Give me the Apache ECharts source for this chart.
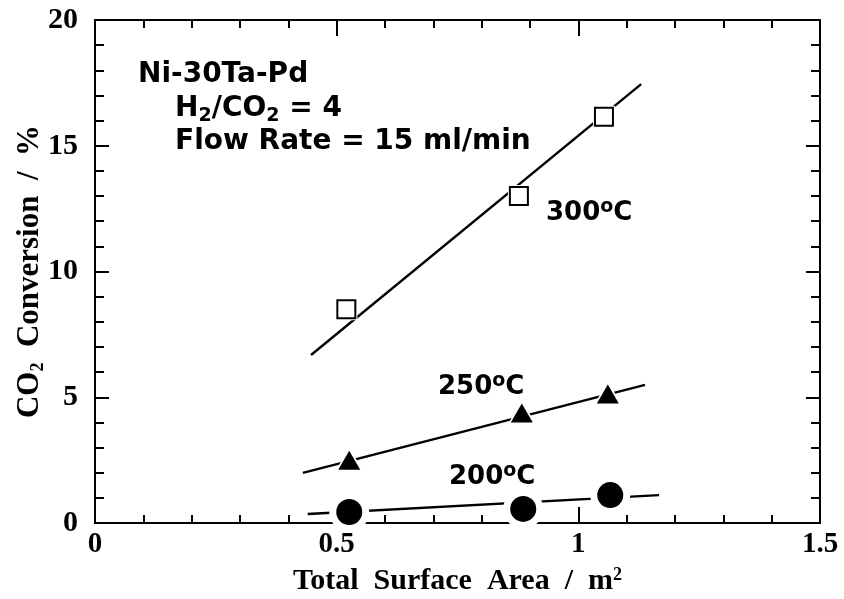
<!DOCTYPE html>
<html>
<head>
<meta charset="utf-8">
<script src="https://cdn.jsdelivr.net/npm/echarts@6/dist/echarts.min.js"></script>
<style>
  html, body { margin: 0; padding: 0; background: #fff; }
  #chart { width: 844px; height: 599px; }
</style>
</head>
<body>
<div id="chart"></div>
<script>
// Measured CO2 conversion (%) against total catalyst surface area (m2)
const area300 = [0.52, 0.877, 1.053];
const conv300 = [8.5, 13.0, 16.15];
const area250 = [0.526, 0.883, 1.061];
const conv250 = [2.5, 4.37, 5.13];
const area200 = [0.526, 0.886, 1.066];
const conv200 = [0.44, 0.56, 1.11];

// Straight-line fits through each temperature set: [area, conversion] end points
const fit300 = [[0.447, 6.68], [1.13, 17.45]];
const fit250 = [[0.43, 1.99], [1.138, 5.49]];
const fit200 = [[0.44, 0.36], [1.167, 1.11]];

// Axis ranges and tick steps
const xRange = [0, 1.5];
const xStep = 0.5;
const yRange = [0, 20];
const yStep = 5;

const serif = '"Liberation Serif", "Times New Roman", serif';
const sans = '"DejaVu Sans", "Liberation Sans", sans-serif';

const zip = (xs, ys) => xs.map((x, i) => [x, ys[i]]);

const tickLine = { color: '#000', width: 2 };
function makeX(pos, showLabels) {
  return {
    type: 'value', position: pos, min: xRange[0], max: xRange[1], interval: xStep,
    axisLine: { show: true, onZero: false, lineStyle: { color: '#000', width: 2 } },
    axisTick: { show: true, inside: true, length: 16, lineStyle: tickLine },
    minorTick: { show: true, splitNumber: 5, length: 8, lineStyle: tickLine },
    splitLine: { show: false },
    axisLabel: {
      show: showLabels, color: '#000', fontFamily: serif, fontWeight: 'bold', fontSize: 29, margin: 7
    }
  };
}
function makeY(pos, showLabels) {
  return {
    type: 'value', position: pos, min: yRange[0], max: yRange[1], interval: yStep,
    axisLine: { show: true, onZero: false, lineStyle: { color: '#000', width: 2 } },
    axisTick: { show: true, inside: true, length: 14, lineStyle: tickLine },
    minorTick: { show: true, splitNumber: 5, length: 9, lineStyle: tickLine },
    splitLine: { show: false },
    axisLabel: {
      show: showLabels, color: '#000', fontFamily: serif, fontWeight: 'bold', fontSize: 30, margin: 17
    }
  };
}

const xBottom = makeX('bottom', true);
xBottom.name = '{a|Total  Surface  Area  /  m}{sup|2}';
xBottom.nameLocation = 'middle';
xBottom.nameGap = 43;
xBottom.nameTextStyle = {
  rich: {
    a: { fontFamily: serif, fontWeight: 'bold', fontSize: 30, color: '#000' },
    sup: { fontFamily: serif, fontWeight: 'bold', fontSize: 18, color: '#000', verticalAlign: 'top' }
  }
};

const yLeft = makeY('left', true);
yLeft.name = '{a|CO}{sub|2}{a|  Conversion  /  %}';
yLeft.nameLocation = 'middle';
yLeft.nameRotate = 90;
yLeft.nameGap = 48;
yLeft.nameMoveOverlap = false;
yLeft.nameTextStyle = {
  rich: {
    a: { fontFamily: serif, fontWeight: 'bold', fontSize: 31, color: '#000', lineHeight: 34 },
    sub: { fontFamily: serif, fontWeight: 'bold', fontSize: 18, color: '#000', verticalAlign: 'bottom', lineHeight: 34 }
  }
};

function fitLine(data) {
  return {
    type: 'line', data: data, xAxisIndex: 0, yAxisIndex: 0, showSymbol: false, symbol: 'none',
    lineStyle: { color: '#000', width: 2.4 }, silent: true, z: 2, animation: false
  };
}
function halo(data, symbol, size) {
  return {
    type: 'scatter', data: data, symbol: symbol, symbolSize: size,
    itemStyle: { color: '#fff', opacity: 1 }, silent: true, z: 3, animation: false
  };
}
function markers(data, symbol, size, style) {
  return {
    type: 'scatter', data: data, symbol: symbol, symbolSize: size,
    itemStyle: Object.assign({ opacity: 1 }, style), silent: true, z: 4, animation: false
  };
}

const pts300 = zip(area300, conv300);
const pts250 = zip(area250, conv250);
const pts200 = zip(area200, conv200);

const infoRich = {
  m: { fontFamily: sans, fontWeight: 'bold', fontSize: 28, color: '#000', lineHeight: 34 },
  s: { fontFamily: sans, fontWeight: 'bold', fontSize: 19, color: '#000', lineHeight: 34, verticalAlign: 'bottom' }
};
const tempRich = {
  m: { fontFamily: sans, fontWeight: 'bold', fontSize: 26, color: '#000', lineHeight: 30 },
  o: { fontFamily: sans, fontWeight: 'bold', fontSize: 19, color: '#000', lineHeight: 19, verticalAlign: 'top' }
};
function label(text, left, top, rich) {
  return { type: 'text', left: left, top: top, z: 10, style: { text: text, rich: rich, fill: '#000' } };
}

const chart = echarts.init(document.getElementById('chart'), null, { renderer: 'canvas' });
chart.setOption({
  animation: false,
  backgroundColor: '#fff',
  grid: { left: 95, right: 24, top: 20, bottom: 76, containLabel: false, outerBoundsMode: 'none' },
  xAxis: [xBottom, makeX('top', false)],
  yAxis: [yLeft, makeY('right', false)],
  series: [
    fitLine(fit300), fitLine(fit250), fitLine(fit200),
    halo(pts300, 'rect', 22),
    halo(pts250, 'triangle', [30, 27]),
    halo(pts200, 'circle', 40),
    markers(pts300, 'rect', 18, { color: '#fff', borderColor: '#000', borderWidth: 2 }),
    markers(pts250, 'triangle', [22, 19], { color: '#000' }),
    markers(pts200, 'circle', 26, { color: '#000' })
  ],
  graphic: [
    label('{m|Ni-30Ta-Pd}', 138, 61, infoRich),
    label('{m|H}{s|2}{m|/CO}{s|2}{m| = 4}', 175, 95, infoRich),
    label('{m|Flow Rate = 15 ml/min}', 175, 128, infoRich),
    label('{m|300}{o|o}{m|C}', 546, 198, tempRich),
    label('{m|250}{o|o}{m|C}', 438, 372, tempRich),
    label('{m|200}{o|o}{m|C}', 449, 462, tempRich)
  ]
});
</script>
</body>
</html>
